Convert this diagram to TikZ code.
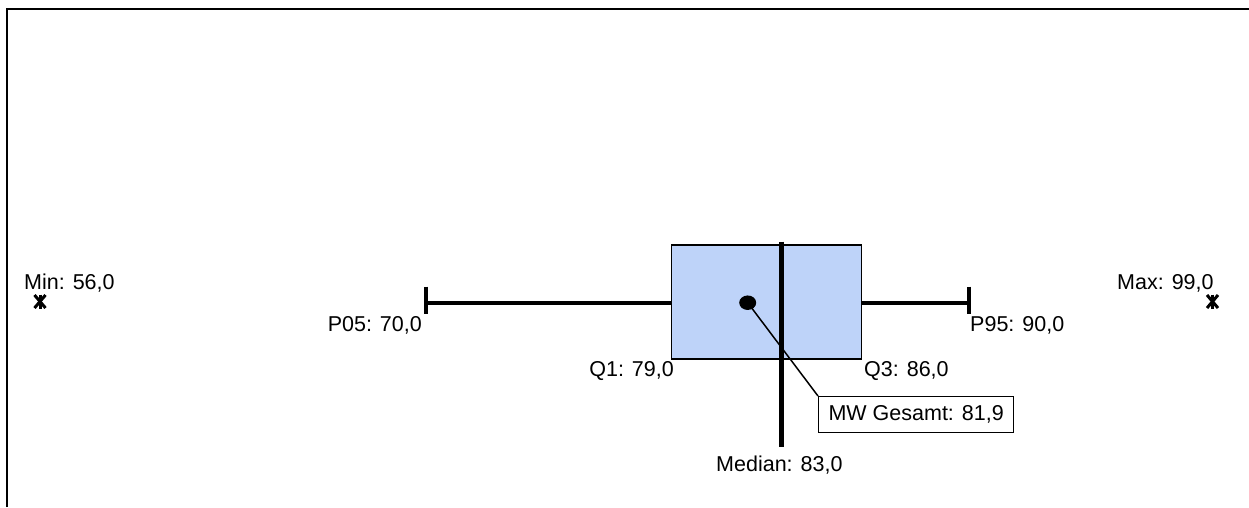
\documentclass[tikz,border=0pt]{standalone}
\usepackage{fontspec}
\setmainfont{Liberation Sans}
\usetikzlibrary{shapes.geometric}
\definecolor{boxblue}{RGB}{190,211,249}
\begin{document}
\begin{tikzpicture}[x=1pt,y=-1pt,
  lbl/.style={inner sep=0pt, font=\fontsize{21.5}{24}\selectfont},
  whisk/.style={line width=4pt},
  starmark/.style={line width=3pt},
  frame/.style={line width=2pt}]
\useasboundingbox (0,0) rectangle (1249,507);
\draw[frame] (7,507) -- (7,9) -- (1249,9);
% box
\node[draw, line width=1.5pt, fill=boxblue, minimum width=190pt, minimum height=114pt, inner sep=0pt, anchor=north west] (iqr) at (670.7,244) {};
% whiskers
\coordinate (p05) at (426,303);
\coordinate (p95) at (968.7,303);
\coordinate (p05t) at (426,286.5);
\coordinate (p05b) at (426,314);
\coordinate (p95t) at (968.7,286.5);
\coordinate (p95b) at (968.7,314);
\draw[whisk] (p05) -- (p05 -| iqr.west);
\draw[whisk] (p95 -| iqr.east) -- (p95);
\draw[whisk] (p05t) -- (p05b);
\draw[whisk] (p95t) -- (p95b);
% median
\coordinate (medt) at (781.5,241.5);
\coordinate (medb) at (781.5,447);
\draw[line width=4.5pt] (medt) -- (medb);
% mean
\node[ellipse, fill=black, minimum width=17pt, minimum height=14.5pt, inner sep=0pt] (mean) at (747.7,302.7) {};
\node[draw, line width=1.3pt, fill=white, minimum width=195pt, minimum height=36pt, inner sep=0pt, anchor=north west, lbl] (mw) at (818,396) {MW Gesamt: 81,9};
\draw[line width=1.5pt] (mean.center) -- (mw.north west);
% min / max markers
\coordinate (minm) at (40,301.5);
\coordinate (maxm) at (1212.5,301.5);
\foreach \c in {minm,maxm}{
  \draw[starmark] ([shift={(-5.5,-6.5)}]\c) -- ([shift={(5.5,6.5)}]\c);
  \draw[starmark] ([shift={(-5.5,6.5)}]\c) -- ([shift={(5.5,-6.5)}]\c);
  \draw[starmark] ([shift={(0,-7)}]\c) -- ([shift={(0,7)}]\c);
}
% labels
\node[lbl, anchor=base west] (minl) at (24,289) {Min: 56,0};
\node[lbl, anchor=base west] (maxl) at (1117,289) {Max: 99,0};
\node[lbl, anchor=base east] (p05l) at (422,331) {P05: 70,0};
\node[lbl, anchor=base west] (p95l) at (970,331) {P95: 90,0};
\node[lbl, anchor=base east] (q1l) at (674,376) {Q1: 79,0};
\node[lbl, anchor=base west] (q3l) at (864,376) {Q3: 86,0};
\node[lbl, anchor=base west] (medl) at (716,471) {Median: 83,0};
\end{tikzpicture}
\end{document}
